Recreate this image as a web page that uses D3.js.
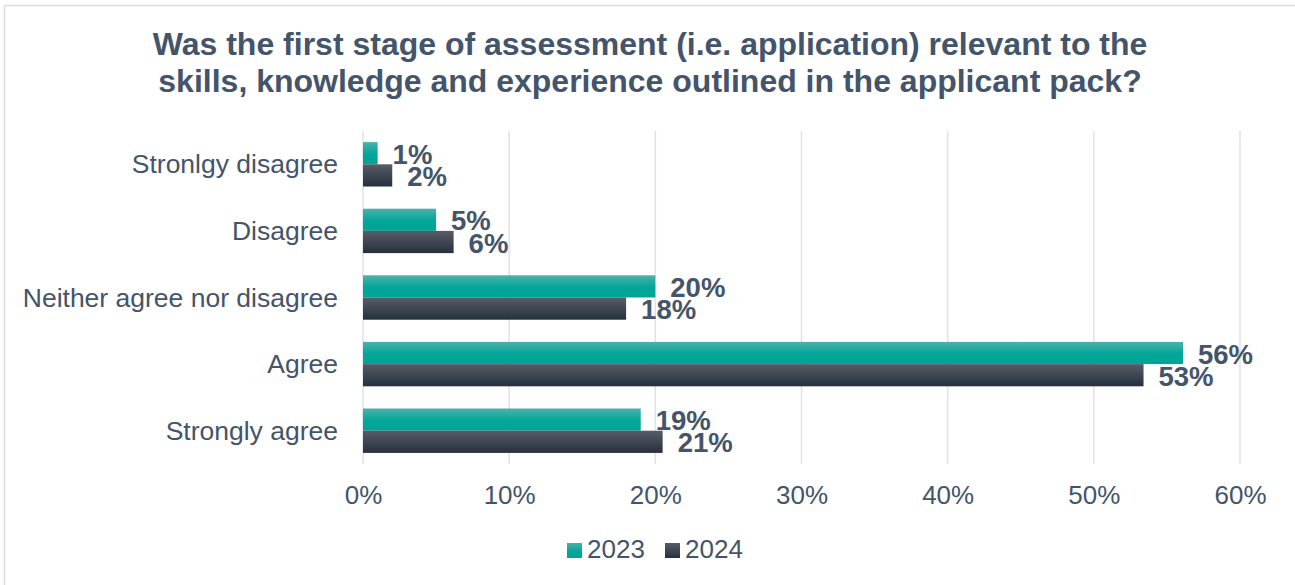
<!DOCTYPE html>
<html>
<head>
<meta charset="utf-8">
<script src="https://cdn.jsdelivr.net/npm/d3@7/dist/d3.min.js"></script>
<style>
  html, body { margin: 0; padding: 0; background: #fff; }
  svg { display: block; }
</style>
</head>
<body>
<svg id="chart" width="1295" height="585"></svg>
<script>
const categories = ["Stronlgy disagree", "Disagree", "Neither agree nor disagree", "Agree", "Strongly agree"];
const seriesNames = ["2023", "2024"];
const values2023 = [1.0, 5.0, 20.0, 56.1, 19.0];
const values2024 = [2.0, 6.2, 18.0, 53.4, 20.5];
const labels2023 = ["1%", "5%", "20%", "56%", "19%"];
const labels2024 = ["2%", "6%", "18%", "53%", "21%"];
const xTicks = [0, 10, 20, 30, 40, 50, 60];
const titleLines = ["Was the first stage of assessment (i.e. application) relevant to the",
                    "skills, knowledge and experience outlined in the applicant pack?"];

const textColor = "#44546a";
const font = "Liberation Sans, Arial, sans-serif";

const svg = d3.select("#chart");
const defs = svg.append("defs");
const g1 = defs.append("linearGradient").attr("id", "grad2023").attr("x1", 0).attr("y1", 0).attr("x2", 0).attr("y2", 1);
g1.append("stop").attr("offset", "0%").attr("stop-color", "#4cb2aa");
g1.append("stop").attr("offset", "55%").attr("stop-color", "#00a699");
g1.append("stop").attr("offset", "100%").attr("stop-color", "#00a597");
const g2 = defs.append("linearGradient").attr("id", "grad2024").attr("x1", 0).attr("y1", 0).attr("x2", 0).attr("y2", 1);
g2.append("stop").attr("offset", "0%").attr("stop-color", "#575d68");
g2.append("stop").attr("offset", "100%").attr("stop-color", "#26303d");
const fills = ["url(#grad2023)", "url(#grad2024)"];

// chart border
svg.append("rect").attr("x", 4.5).attr("y", 5.5).attr("width", 1400).attr("height", 700)
  .attr("fill", "none").attr("stroke", "#dadde2").attr("stroke-width", 1.5);

// title
svg.append("g").selectAll("text").data(titleLines).join("text")
  .attr("x", 650).attr("y", (d, i) => 55 + i * 36.5)
  .attr("text-anchor", "middle")
  .attr("font-family", font).attr("font-weight", "bold").attr("font-size", 32)
  .attr("fill", textColor).text(d => d);

const plot = { left: 363, right: 1240, top: 131, bottom: 464 };
const x = d3.scaleLinear().domain([0, 60]).range([plot.left, plot.right]);
const y = d3.scaleBand().domain(categories).range([plot.top, plot.bottom]).paddingInner(0.333).paddingOuter(0.1665);
const ySub = d3.scaleBand().domain(seriesNames).range([0, y.bandwidth()]);

// gridlines
svg.append("g").selectAll("line").data(xTicks).join("line")
  .attr("x1", d => x(d)).attr("x2", d => x(d))
  .attr("y1", plot.top).attr("y2", plot.bottom)
  .attr("stroke", "#dfe2e8").attr("stroke-width", 1.5);

// x axis labels via d3 axis
const xAxis = d3.axisBottom(x).tickValues(xTicks).tickFormat(d => d + "%").tickSize(0).tickPadding(0);
const xg = svg.append("g").attr("transform", `translate(0, ${plot.bottom})`).call(xAxis);
xg.select(".domain").remove();
xg.selectAll("text").attr("font-family", font).attr("font-size", 26).attr("fill", textColor)
  .attr("dy", null).attr("y", 40);

// y axis labels
const yAxis = d3.axisLeft(y).tickSize(0).tickPadding(0);
const yg = svg.append("g").attr("transform", `translate(338, 0)`).call(yAxis);
yg.select(".domain").remove();
yg.selectAll("text").attr("font-family", font).attr("font-size", 26.5).attr("fill", textColor)
  .attr("dy", "0.34em").attr("x", 0);

const seriesVals = [values2023, values2024];
const seriesLabels = [labels2023, labels2024];

const bars = svg.append("g");
seriesNames.forEach((s, si) => {
  const data = categories.map((c, i) => ({ c, v: seriesVals[si][i], l: seriesLabels[si][i] }));
  bars.append("g").selectAll("rect").data(data).join("rect")
    .attr("x", x(0))
    .attr("y", d => y(d.c) + ySub(s))
    .attr("width", d => x(d.v) - x(0))
    .attr("height", ySub.bandwidth())
    .attr("fill", fills[si]);
  bars.append("g").selectAll("text").data(data).join("text")
    .attr("x", d => x(d.v) + 15)
    .attr("y", d => y(d.c) + ySub(s) + ySub.bandwidth() - 0.5)
    .attr("font-family", font).attr("font-weight", "bold").attr("font-size", 27.5)
    .attr("fill", textColor).text(d => d.l);
});

// legend
const legendItems = [{ name: "2023", x: 567 }, { name: "2024", x: 665 }];
const lg = svg.append("g");
legendItems.forEach((it, i) => {
  lg.append("rect").attr("x", it.x).attr("y", 543).attr("width", 15).attr("height", 15).attr("fill", fills[i]);
  lg.append("text").attr("x", it.x + 20).attr("y", 558)
    .attr("font-family", font).attr("font-size", 26).attr("fill", textColor).text(it.name);
});
</script>
</body>
</html>
